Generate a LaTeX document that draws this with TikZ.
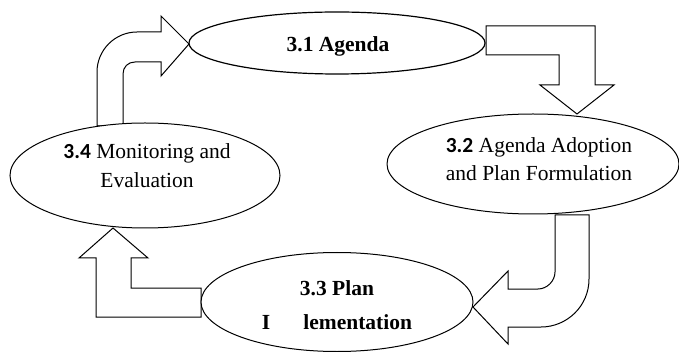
\documentclass[tikz,border=0pt]{standalone}
\usepackage{fontspec}
\setmainfont{Liberation Serif}
\newfontfamily\numfont{Carlito}
\usetikzlibrary{shapes.geometric}

\begin{document}
\begin{tikzpicture}[x=1pt,y=-1pt,line width=1pt,
    stage/.style={draw,ellipse,fill=white,inner sep=0pt},
    blockarrow/.style={draw,fill=white,line join=miter},
    txt/.style={align=center,inner sep=0pt,font=\fontsize{21.5}{#1}\selectfont},
    txt/.default=29]
  \useasboundingbox (0,0) rectangle (679,352);

  % block arrows between the stages
  \draw[blockarrow] (97,126) -- (97,72) .. controls (97,50) and (115,32) .. (137,32) -- (161,32) -- (161,16) -- (189,44) -- (161,76) -- (161,62) -- (135,62) .. controls (128,62) and (123,67) .. (123,74) -- (123,126) -- cycle;
  \draw[blockarrow] (486,26) -- (595,26) -- (595,85) -- (614,85) -- (577,114) -- (540,85) -- (559,85) -- (559,55) -- (486,55) -- cycle;
  \draw[blockarrow] (555,215) -- (555,272) .. controls (555,281) and (547,289) .. (538,289) -- (508,289) -- (508,271) -- (473,307) -- (508,344) -- (508,327) -- (541,327) .. controls (567,327) and (589,306) .. (589,279) -- (589,215) -- cycle;
  \draw[blockarrow] (201,288) -- (131,288) -- (131,258) -- (148,258) -- (113,228) -- (79,258) -- (96,258) -- (96,317) -- (201,317) -- cycle;

  % stages
  \node[stage,line width=1.2pt,minimum width=296pt,minimum height=62pt] (e1) at (337,43) {};
  \node[stage,minimum width=292pt,minimum height=100pt] (e2) at (533,164) {};
  \node[stage,minimum width=272pt,minimum height=99pt] (e3) at (337,302) {};
  \node[stage,minimum width=270pt,minimum height=105pt] (e4) at (145,175.5) {};

  \node[txt] (t1) at (338,46) {\bfseries 3.1 Agenda};
  \node[txt=28] (t2) at (539,159) {{\numfont\bfseries 3.2} Agenda Adoption\\and Plan Formulation};
  \node[txt=34] (t3) at (337,305.5) {\bfseries 3.3 Plan\\\bfseries I\hspace{33pt}lementation};
  \node[txt] (t4) at (147,166) {{\numfont\bfseries 3.4} Monitoring and\\Evaluation};
\end{tikzpicture}
\end{document}
